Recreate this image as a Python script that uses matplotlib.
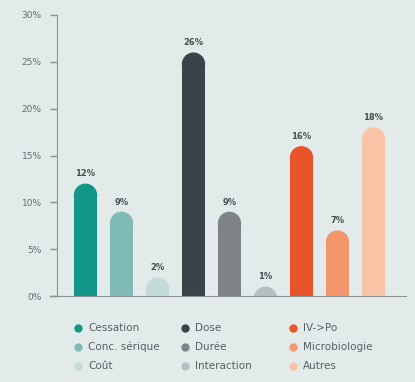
import matplotlib.pyplot as plt
from matplotlib.patches import Ellipse
from matplotlib.lines import Line2D

categories = ['Cessation', 'Conc. sérique', 'Coût', 'Dose', 'Durée', 'Interaction',
              'IV->Po', 'Microbiologie', 'Autres']
values = [12, 9, 2, 26, 9, 1, 16, 7, 18]
labels = ['12%', '9%', '2%', '26%', '9%', '1%', '16%', '7%', '18%']
colors = ['#12968a', '#7fbab5', '#c4dcd9', '#3b424a', '#7e8388', '#b6bec1',
          '#e9532a', '#f4966c', '#f9c4a6']
yticks = [0, 5, 10, 15, 20, 25, 30]

bg = '#e2eaea'
plt.rcParams['font.family'] = ['DejaVu Sans']

W, H = 415, 382
fig = plt.figure(figsize=(W / 100, H / 100), dpi=100, facecolor=bg)
left, right, top, bottom = 57, 406, 15, 296
ax = fig.add_axes([left / W, (H - bottom) / H, (right - left) / W, (bottom - top) / H])
ax.set_facecolor(bg)

spacing = 36.0
x0 = 85.5
ax.set_xlim(-(x0 - left) / spacing, (right - x0) / spacing)
ax.set_ylim(0, 30)

bw = 0.65
px_per_y = (bottom - top) / 30.0
r_y = (bw * spacing / 2) / px_per_y  # cap radius in data units

for i, v in enumerate(values):
    h = max(v - r_y, 0)
    ax.bar(i, h, width=bw, color=colors[i], linewidth=0)
    ax.add_patch(Ellipse((i, v - r_y), bw, 2 * r_y, color=colors[i], linewidth=0))
    ax.text(i, v + 0.55, labels[i], ha='center', va='bottom', fontsize=6,
            color='#4a4f52', fontweight='bold')

for s in ['top', 'right']:
    ax.spines[s].set_visible(False)
ax.spines['left'].set_color('#8a9094')
ax.spines['bottom'].set_color('#8a9094')
ax.set_xticks([])
ax.set_yticks(yticks)
ax.set_yticklabels([f'{t}%' for t in yticks], fontsize=6.5, color='#666b6f')
ax.tick_params(axis='y', length=5, width=1, color='#8a9094', pad=6)
# bottom line reaches a bit left of the y axis
fig.add_artist(Line2D([50 / W, left / W], [(H - bottom) / H] * 2, color='#8a9094', lw=1))

# legend, three columns placed by hand
col_x = [78, 185, 293]
row_y = [328, 347, 366]
for i, name in enumerate(categories):
    cx = col_x[i // 3]
    cy = row_y[i % 3]
    fig.add_artist(Line2D([cx / W], [1 - cy / H], marker='o', markersize=6,
                          markerfacecolor=colors[i], markeredgecolor='none', linestyle=''))
    fig.text((cx + 10) / W, 1 - cy / H, name, fontsize=7.5, color='#5a5f63',
             va='center', ha='left')

fig.savefig('out.png', dpi=100, facecolor=bg)
